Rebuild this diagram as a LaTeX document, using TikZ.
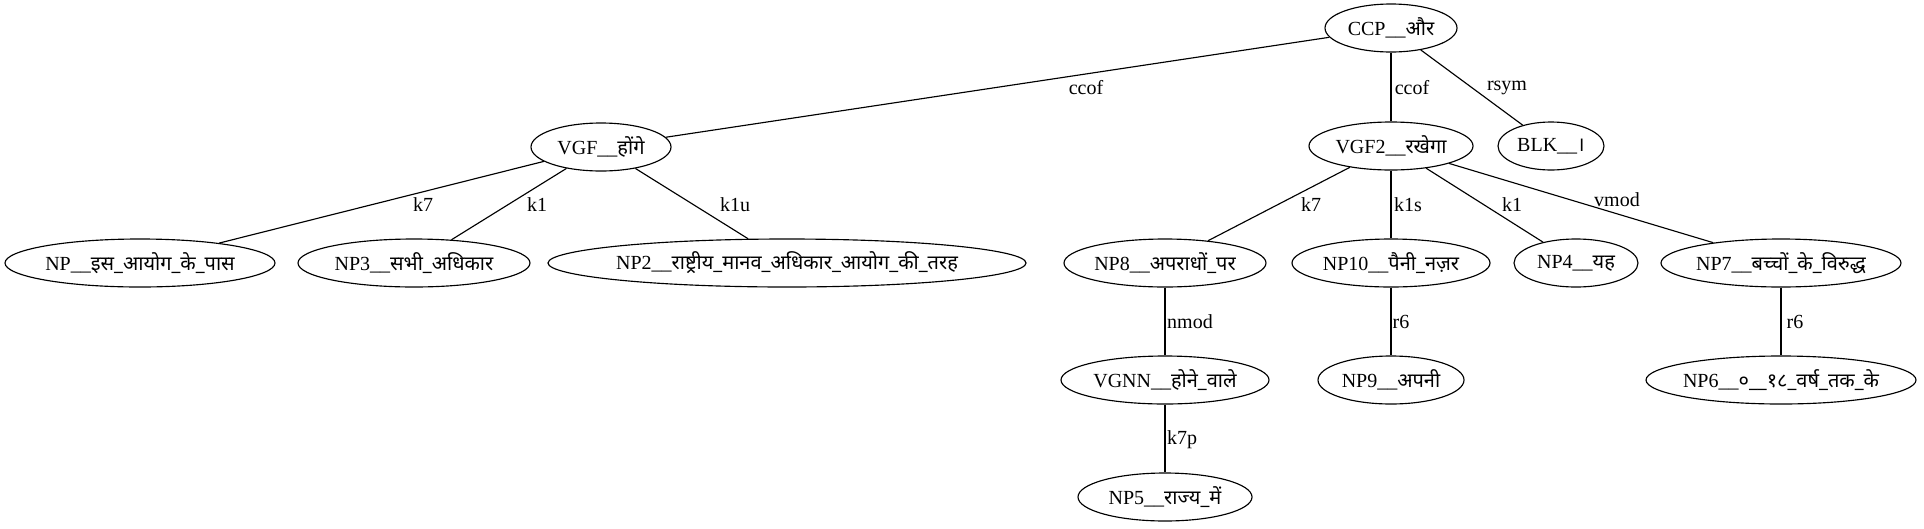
\documentclass[tikz,border=0pt]{standalone}
\usepackage{fontspec}
\setmainfont{Liberation Serif}
\newfontfamily\dev[Script=Devanagari,Scale=1.0]{Noto Sans}
\newcommand\zb[1]{\makebox[0pt]{#1}}
\usetikzlibrary{shapes.geometric}
\begin{document}
\begin{tikzpicture}[x=0.7pt,y=-0.7pt,
  ell/.style={draw, ellipse, inner sep=0pt, minimum height=48*0.7pt, line width=0.8pt, font=\fontsize{14pt}{16pt}\selectfont},
  rx/.style={minimum width=2*#1*0.7pt},
  lbl/.style={inner sep=0pt, font=\fontsize{14pt}{16pt}\selectfont},
  edge/.style={line width=0.8pt}]
\useasboundingbox (0,0) rectangle (1924,528);
% nodes
\node[ell, rx=66]  (ccp)  at (1391,28)  {\zb{CCP\_\_\dev और}};
\node[ell, rx=70]  (vgf)  at (601,147)  {\zb{VGF\_\_\dev होंगे}};
\node[ell, rx=82]  (vgf2) at (1391,146) {\zb{VGF2\_\_\dev रखेगा}};
\node[ell, rx=53]  (blk)  at (1551,146) {\zb{BLK\_\_\dev ।}};
\node[ell, rx=135] (np)   at (140,263)  {\zb{NP\_\_\dev इस\_आयोग\_के\_पास}};
\node[ell, rx=116] (np3)  at (414,263)  {\zb{NP3\_\_\dev सभी\_अधिकार}};
\node[ell, rx=239] (np2)  at (787,263)  {\zb{NP2\_\_\dev राष्ट्रीय\_मानव\_अधिकार\_आयोग\_की\_तरह}};
\node[ell, rx=101] (np8)  at (1165,263) {\zb{NP8\_\_\dev अपराधों\_पर}};
\node[ell, rx=99]  (np10) at (1391,263) {\zb{NP10\_\_\dev पैनी\_नज़र}};
\node[ell, rx=62]  (np4)  at (1576,263) {\zb{NP4\_\_\dev यह}};
\node[ell, rx=120] (np7)  at (1781,263) {\zb{NP7\_\_\dev बच्चों\_के\_विरुद्ध}};
\node[ell, rx=104] (vgnn) at (1165,380) {\zb{VGNN\_\_\dev होने\_वाले}};
\node[ell, rx=73]  (np9)  at (1391,380) {\zb{NP9\_\_\dev अपनी}};
\node[ell, rx=135] (np6)  at (1781,380) {\zb{NP6\_\_\dev ०\_\_१८\_वर्ष\_तक\_के}};
\node[ell, rx=87]  (np5)  at (1165,497) {\zb{NP5\_\_\dev राज्य\_में}};
% edges
\draw[edge] (ccp) -- (vgf);
\draw[edge] (ccp) -- (vgf2);
\draw[edge] (ccp) -- (blk);
\draw[edge] (vgf) -- (np);
\draw[edge] (vgf) -- (np3);
\draw[edge] (vgf) -- (np2);
\draw[edge] (vgf2) -- (np8);
\draw[edge] (vgf2) -- (np10);
\draw[edge] (vgf2) -- (np4);
\draw[edge] (vgf2) -- (np7);
\draw[edge] (np8) -- (vgnn);
\draw[edge] (np10) -- (np9);
\draw[edge] (np7) -- (np6);
\draw[edge] (vgnn) -- (np5);
% edge labels
\node[lbl] (l1)  at (1086,88)  {ccof};
\node[lbl] (l2)  at (1412,88)  {ccof};
\node[lbl] (l3)  at (1507,88)  {rsym};
\node[lbl] (l4)  at (423,205)  {k7};
\node[lbl] (l5)  at (537,205)  {k1};
\node[lbl] (l6)  at (735,205)  {k1u};
\node[lbl] (l7)  at (1311,205) {k7};
\node[lbl] (l8)  at (1408,205) {k1s};
\node[lbl] (l9)  at (1512,205) {k1};
\node[lbl] (l10) at (1617,200) {vmod};
\node[lbl] (l11) at (1190,322) {nmod};
\node[lbl] (l12) at (1401,322) {r6};
\node[lbl] (l13) at (1795,322) {r6};
\node[lbl] (l14) at (1182,440) {k7p};
\end{tikzpicture}
\end{document}
